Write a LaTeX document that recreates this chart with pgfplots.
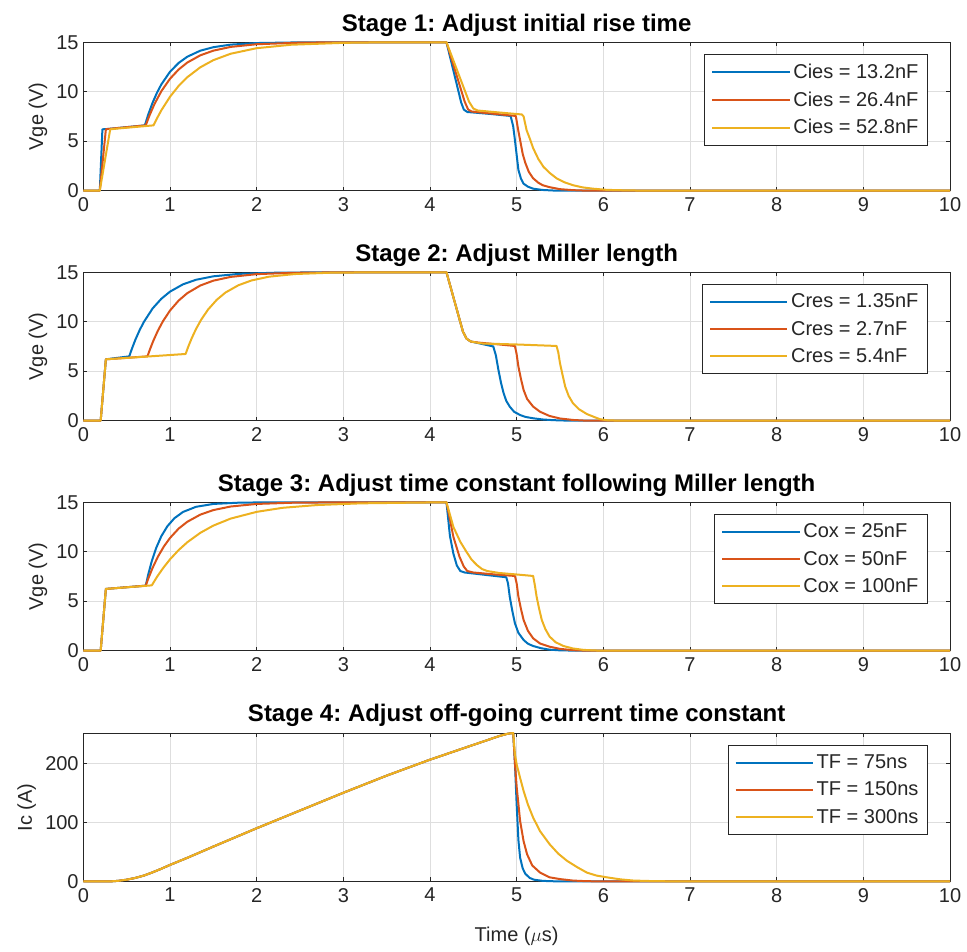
\documentclass[border=0pt]{standalone}
\usepackage{fontspec}
\setmainfont{Liberation Sans}
\usepackage{pgfplots}
\pgfplotsset{compat=1.18}
\frenchspacing
\definecolor{mB}{rgb}{0,0.447,0.741}
\definecolor{mR}{rgb}{0.85,0.325,0.098}
\definecolor{mY}{rgb}{0.929,0.694,0.125}
\definecolor{axc}{rgb}{0.15,0.15,0.15}
\tikzset{
  pB/.style={color=mB, line width=1.5pt, line join=round},
  pR/.style={color=mR, line width=1.5pt, line join=round},
  pY/.style={color=mY, line width=1.5pt, line join=round},
}
\pgfplotsset{
  stg/.style={
    scale only axis, width=650pt, height=111.3pt, anchor=south west,
    xmin=0, xmax=10, xtick={0,1,...,10},
    grid=major, major grid style={black!13, line width=0.5pt},
    axis line style={axc, line width=0.6pt},
    tick style={axc, line width=0.6pt}, tick align=inside, major tick length=3pt,
    ticklabel style={font=\fontsize{15}{18}\selectfont, text=axc},
    xticklabel style={yshift=-1.5pt},
    /pgf/number format/assume math mode=true,
    title style={font=\bfseries\fontsize{18}{21}\selectfont, text=black, yshift=-5pt},
    label style={font=\fontsize{15}{18}\selectfont, text=axc},
    clip=false,
    legend style={at={(1,1)}, anchor=north east, xshift=-16.5pt, yshift=-9pt,
      font=\fontsize{15}{18}\selectfont, text=axc, draw=axc,
      row sep=4.5pt, inner xsep=5pt, inner ysep=5pt, cells={anchor=west}},
    legend image code/.code={\draw[##1, line width=1.5pt] (0pt,0pt) -- (58pt,0pt);},
  }
}
\begin{document}
\begin{tikzpicture}
\useasboundingbox (0,0) rectangle (725.25pt,714pt);
% Stage 1
\begin{axis}[stg, at={(62.5pt,571.0pt)}, ymin=0, ymax=15, ytick={0,5,10,15},
  title={Stage 1: Adjust initial rise time}, ylabel={Vge (V)}]
\addplot[pB] coordinates {(0,0)(0.19,0)(0.22,6.2)(0.3,6.25)(0.71,6.6)(0.75,7.72)(0.8,8.91)(0.85,9.9)(0.9,10.74)(1.0,12.02)(1.1,12.91)(1.2,13.54)(1.35,14.15)(1.5,14.5)(1.7,14.76)(2.0,14.92)(2.5,14.99)(3,15)(4.19,15)(4.36,8.9)(4.39,8.2)(4.43,7.95)(4.5,7.9)(4.7,7.75)(4.93,7.55)(4.96,6.5)(4.98,5.1)(5.0,3.6)(5.02,2.1)(5.05,1.2)(5.08,0.7)(5.13,0.4)(5.19,0.2)(5.3,0.07)(5.45,0)(10,0)};
\addlegendentry{Cies = 13.2nF}
\addplot[pR] coordinates {(0,0)(0.19,0)(0.26,6.2)(0.3,6.25)(0.72,6.6)(0.76,7.53)(0.82,8.74)(0.9,10.05)(1.0,11.31)(1.1,12.25)(1.2,12.95)(1.35,13.68)(1.5,14.15)(1.7,14.53)(2.0,14.8)(2.5,14.96)(3,15)(4.19,15)(4.40,9.0)(4.44,8.2)(4.48,8.0)(4.7,7.8)(4.99,7.55)(5.02,6.0)(5.04,5.1)(5.07,3.7)(5.1,2.8)(5.14,1.9)(5.19,1.25)(5.25,0.8)(5.3,0.55)(5.38,0.35)(5.5,0.15)(5.65,0.05)(5.8,0)(10,0)};
\addlegendentry{Cies = 26.4nF}
\addplot[pY] coordinates {(0,0)(0.19,0)(0.31,6.2)(0.4,6.28)(0.81,6.6)(0.85,7.31)(0.9,8.12)(1.0,9.49)(1.1,10.59)(1.2,11.47)(1.35,12.47)(1.5,13.19)(1.7,13.84)(2.0,14.4)(2.4,14.75)(3.0,14.94)(3.5,15)(4.19,15)(4.45,9.0)(4.5,8.3)(4.55,8.1)(4.8,7.9)(5.06,7.7)(5.08,7.5)(5.115,6.1)(5.15,5.3)(5.19,4.3)(5.25,3.2)(5.31,2.4)(5.38,1.8)(5.46,1.25)(5.55,0.85)(5.65,0.55)(5.76,0.33)(5.88,0.2)(6.04,0.08)(6.3,0.02)(6.6,0)(10,0)};
\addlegendentry{Cies = 52.8nF}
\end{axis}
% Stage 2
\begin{axis}[stg, at={(62.5pt,398.5pt)}, ymin=0, ymax=15, ytick={0,5,10,15},
  title={Stage 2: Adjust Miller length}, ylabel={Vge (V)}]
\addplot[pB] coordinates {(0,0)(0.2,0)(0.26,6.2)(0.53,6.5)(0.56,7.26)(0.6,8.17)(0.65,9.16)(0.7,10.0)(0.8,11.35)(0.9,12.32)(1.0,13.04)(1.15,13.78)(1.3,14.24)(1.5,14.59)(1.8,14.84)(2.2,14.95)(2.8,15)(4.19,15)(4.38,9.0)(4.42,8.3)(4.47,8.0)(4.55,7.85)(4.73,7.5)(4.76,6.6)(4.79,5.1)(4.82,3.8)(4.85,2.76)(4.88,2.0)(4.92,1.42)(4.97,0.9)(5.04,0.57)(5.1,0.38)(5.19,0.24)(5.3,0.12)(5.42,0.05)(5.6,0)(10,0)};
\addlegendentry{Cres = 1.35nF}
\addplot[pR] coordinates {(0,0)(0.2,0)(0.26,6.2)(0.74,6.5)(0.77,7.24)(0.81,8.12)(0.86,9.09)(0.92,10.07)(1.0,11.13)(1.1,12.14)(1.2,12.89)(1.35,13.66)(1.5,14.15)(1.7,14.53)(2.0,14.81)(2.4,14.94)(3,15)(4.19,15)(4.38,9.0)(4.42,8.3)(4.47,8.0)(4.55,7.9)(4.8,7.7)(4.98,7.55)(5.0,6.7)(5.02,5.46)(5.05,4.2)(5.08,3.1)(5.12,2.2)(5.19,1.42)(5.27,0.9)(5.38,0.47)(5.5,0.22)(5.65,0.07)(5.8,0)(10,0)};
\addlegendentry{Cres = 2.7nF}
\addplot[pY] coordinates {(0,0)(0.2,0)(0.26,6.2)(1.18,6.74)(1.21,7.46)(1.25,8.32)(1.3,9.26)(1.36,10.21)(1.44,11.24)(1.54,12.22)(1.64,12.95)(1.79,13.69)(1.94,14.17)(2.14,14.55)(2.44,14.82)(2.84,14.95)(3.4,15)(4.19,15)(4.38,9.0)(4.42,8.3)(4.47,8.0)(4.6,7.8)(5.0,7.7)(5.46,7.55)(5.48,6.9)(5.5,5.8)(5.53,4.6)(5.56,3.44)(5.6,2.5)(5.65,1.75)(5.72,1.15)(5.81,0.67)(5.9,0.35)(5.96,0.15)(6.05,0.03)(6.2,0)(10,0)};
\addlegendentry{Cres = 5.4nF}
\end{axis}
% Stage 3
\begin{axis}[stg, at={(62.5pt,226.0pt)}, ymin=0, ymax=15, ytick={0,5,10,15},
  title={Stage 3: Adjust time constant following Miller length}, ylabel={Vge (V)}]
\addplot[pB] coordinates {(0,0)(0.2,0)(0.26,6.24)(0.72,6.57)(0.75,7.74)(0.79,9.06)(0.84,10.37)(0.9,11.57)(0.97,12.58)(1.05,13.38)(1.15,14.02)(1.3,14.54)(1.5,14.83)(1.8,14.96)(2.2,15)(4.19,15)(4.23,11.6)(4.27,9.8)(4.31,8.6)(4.35,8.05)(4.4,7.9)(4.6,7.7)(4.88,7.42)(4.9,6.8)(4.92,5.46)(4.95,4.0)(4.98,2.76)(5.02,1.8)(5.08,1.08)(5.13,0.7)(5.19,0.47)(5.28,0.25)(5.38,0.1)(5.5,0.03)(5.7,0)(10,0)};
\addlegendentry{Cox = 25nF}
\addplot[pR] coordinates {(0,0)(0.2,0)(0.26,6.24)(0.72,6.57)(0.75,7.3)(0.8,8.38)(0.86,9.49)(0.93,10.54)(1.0,11.39)(1.1,12.34)(1.2,13.03)(1.35,13.75)(1.5,14.21)(1.7,14.57)(2.0,14.83)(2.4,14.95)(3,15)(4.19,15)(4.27,11.5)(4.34,9.5)(4.39,8.5)(4.43,8.05)(4.5,7.9)(4.75,7.7)(4.98,7.55)(5.0,6.8)(5.02,5.46)(5.05,4.2)(5.08,3.1)(5.13,2.0)(5.19,1.25)(5.27,0.72)(5.38,0.4)(5.5,0.18)(5.65,0.05)(5.8,0)(10,0)};
\addlegendentry{Cox = 50nF}
\addplot[pY] coordinates {(0,0)(0.2,0)(0.26,6.24)(0.79,6.6)(0.85,7.46)(0.92,8.34)(1.0,9.23)(1.1,10.17)(1.2,10.96)(1.35,11.91)(1.5,12.64)(1.7,13.35)(2.0,14.03)(2.3,14.44)(2.7,14.72)(3.2,14.89)(3.8,14.96)(4.19,15)(4.27,12.5)(4.35,11.0)(4.42,10.0)(4.48,9.2)(4.54,8.66)(4.6,8.25)(4.66,8.05)(4.8,7.85)(5.0,7.7)(5.19,7.55)(5.21,6.6)(5.23,5.46)(5.26,4.2)(5.29,3.1)(5.33,2.2)(5.38,1.42)(5.45,0.85)(5.54,0.47)(5.65,0.22)(5.77,0.08)(5.9,0.02)(6.0,0)(10,0)};
\addlegendentry{Cox = 100nF}
\end{axis}
% Stage 4
\begin{axis}[stg, at={(62.5pt,52.9pt)}, ymin=0, ymax=251, ytick={0,100,200},
  title={Stage 4: Adjust off-going current time constant}, ylabel={Ic (A)},
  xlabel={Time ($\mu$s)}, xlabel style={yshift=-12pt}]
\addplot[pB] coordinates {(0,0)(0.3,0)(0.4,1)(0.5,3)(0.6,6)(0.7,10)(0.8,15.5)(0.9,21.5)(1.0,28)(1.2,40)(1.5,59)(2.0,90)(2.5,120)(3.0,150)(3.5,179)(4.0,206)(4.5,231)(4.8,246)(4.9,250)(4.96,251)(4.98,200)(5.0,130)(5.02,70)(5.04,40)(5.07,22)(5.1,13)(5.15,6)(5.2,3)(5.3,1)(5.45,0.2)(5.6,0)(10,0)};
\addlegendentry{TF = 75ns}
\addplot[pR] coordinates {(0,0)(0.3,0)(0.4,1)(0.5,3)(0.6,6)(0.7,10)(0.8,15.5)(0.9,21.5)(1.0,28)(1.2,40)(1.5,59)(2.0,90)(2.5,120)(3.0,150)(3.5,179)(4.0,206)(4.5,231)(4.8,246)(4.9,250)(4.96,251)(4.98,200)(5.0,160)(5.04,102)(5.08,68)(5.12,46)(5.18,27)(5.27,15)(5.38,7)(5.5,4)(5.65,1.5)(5.8,0.5)(6.0,0)(10,0)};
\addlegendentry{TF = 150ns}
\addplot[pY] coordinates {(0,0)(0.3,0)(0.4,1)(0.5,3)(0.6,6)(0.7,10)(0.8,15.5)(0.9,21.5)(1.0,28)(1.2,40)(1.5,59)(2.0,90)(2.5,120)(3.0,150)(3.5,179)(4.0,206)(4.5,231)(4.8,246)(4.9,250)(4.96,251)(4.98,215)(5.0,198)(5.04,175)(5.08,153)(5.13,130)(5.19,108)(5.27,85)(5.38,63)(5.48,47)(5.58,35)(5.7,24)(5.81,15)(5.92,10)(6.04,7)(6.2,3.5)(6.35,1.5)(6.6,0.5)(7,0)(10,0)};
\addlegendentry{TF = 300ns}
\end{axis}
\end{tikzpicture}
\end{document}
